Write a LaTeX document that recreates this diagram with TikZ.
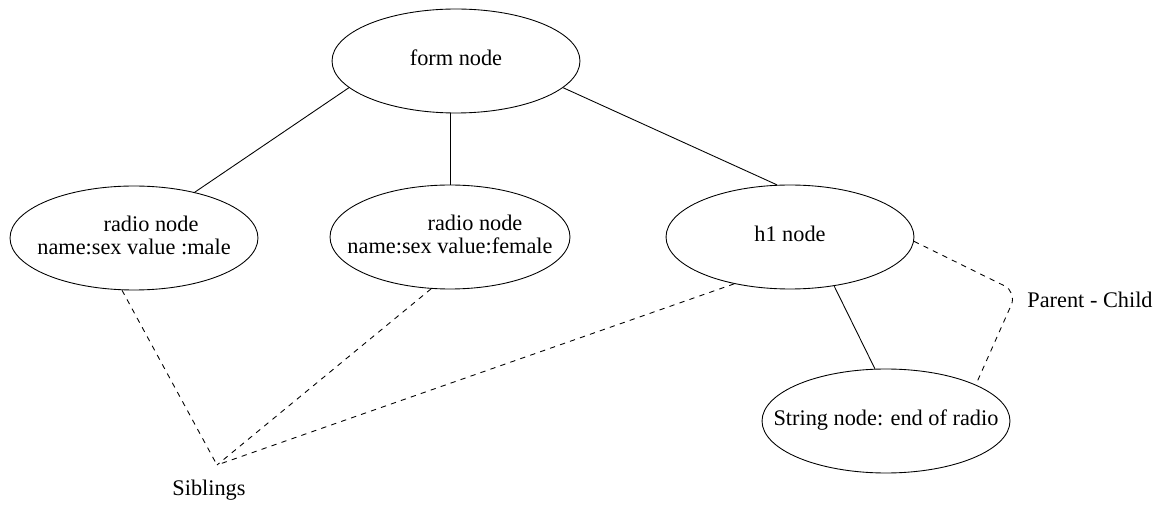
\documentclass[tikz,border=0pt]{standalone}
\usepackage{fontspec}
\setmainfont{Liberation Serif}
\usetikzlibrary{shapes.geometric}
\newcommand{\eltext}[1]{\makebox[0pt]{\begin{tabular}{@{}c@{}}#1\end{tabular}}}
\begin{document}
\begin{tikzpicture} [x=0.02cm, y=-0.02cm, line width=0.5pt,
		elnode/.style={draw, ellipse, inner sep=0pt, minimum width=4.96cm, minimum height=2.08cm},
		lbl/.style={inner sep=0pt}]
		\fontsize{12.7}{13.1}\selectfont
		\useasboundingbox (0,0) rectangle (1166,506);
		\node[elnode] (form) at (456,61) {\eltext{form node}};
		\node[elnode] (male) at (134,238) {\eltext{\hspace*{0.68cm}radio node\\name:sex value :male}};
		\node[elnode, minimum width=4.8cm] (female) at (450,237) {\eltext{\hspace*{1cm}radio node\\name:sex value:female}};
		\node[elnode] (h1) at (790,237) {\eltext{h1 node}};
		\node[elnode] (str) at (886,421) {\eltext{String node: end of radio}};
		
		\draw (form.194) -- (male.37);
		\draw (form.south -| female.north) -- (female.north);
		\draw (form.-14) -- (h1.104);
		\draw (h1.-48) -- (str.102);
		
		\coordinate (sib) at (217,465);
		\node[lbl] (siblbl) at (209,490) {Siblings};
		\draw[dashed] (male.-103) -- (sib);
		\draw[dashed] (female.-110) -- (sib);
		\draw[dashed] (h1.220) -- (sib);
		
		\coordinate (pc) at (1017,292);
		\node[lbl] (pclbl) at (1090,300) {Parent - Child};
		\draw[dashed, rounded corners=8pt] (h1.-2) -- (pc) -- (str.22);
	\end{tikzpicture}
\end{document}
